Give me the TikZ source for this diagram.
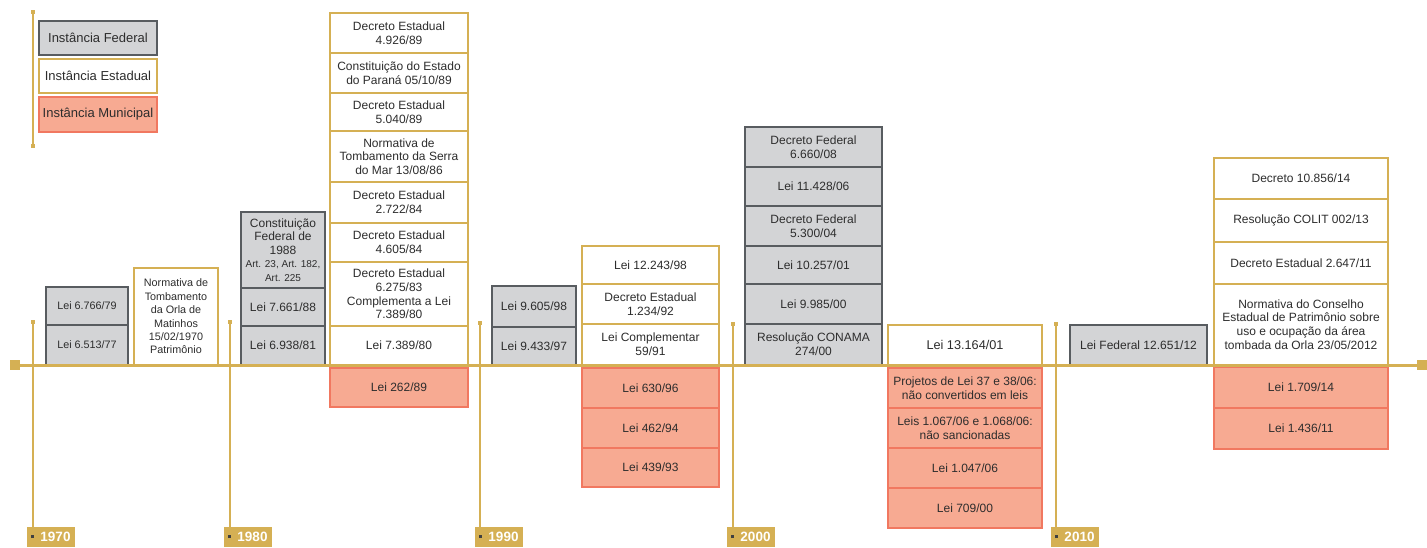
\documentclass[tikz,border=0pt]{standalone}
\usepackage{fontspec}
\setmainfont{Liberation Sans}
\usetikzlibrary{positioning}
\definecolor{gold}{RGB}{213,176,84}
\definecolor{fedfill}{RGB}{211,212,214}
\definecolor{fedline}{RGB}{88,92,96}
\definecolor{munfill}{RGB}{247,170,146}
\definecolor{munline}{RGB}{241,120,96}
\definecolor{txtgrey}{RGB}{45,45,45}

\tikzset{
  box/.style={draw, rectangle, outer sep=0pt, inner sep=1pt, align=center,
    text=txtgrey, font=\fontsize{12}{13.6}\selectfont},
  fed/.style={box, fill=fedfill, draw=fedline, line width=1.6pt},
  est/.style={box, fill=white, draw=gold, line width=1.6pt},
  mun/.style={box, fill=munfill, draw=munline, line width=1.2pt},
  narrowtxt/.style={font=\fontsize{10.8}{13.4}\selectfont},
  axis/.style={draw=gold, line width=2.2pt},
  dot/.style={rectangle, fill=gold, minimum size=4.5pt, inner sep=0pt, outer sep=0pt},
  endsq/.style={rectangle, fill=gold, minimum size=10pt, inner sep=0pt, outer sep=0pt},
  yearbox/.style={rectangle, fill=gold, text=white, minimum width=48pt, minimum height=20pt,
    inner sep=0pt, outer sep=0pt, anchor=north west, font=\fontsize{13.5}{15}\selectfont\bfseries},
}
\newcommand{\yrdot}{\textcolor{black!75}{\rule[3.5pt]{3pt}{3pt}}\hspace{6pt}}
\newcommand{\arttxt}{\fontsize{10}{11.5}\selectfont}

\begin{document}
\begin{tikzpicture}[x=1pt, y=-1pt]
    \useasboundingbox (0,0) rectangle (1427,547);

    % Legend
    \node[dot] (legtop) at (33,12) {};
    \node[dot] (legbot) at (33,146) {};
    \draw[axis] (legtop) -- (legbot);
    \node[fed, font=\fontsize{13}{15}\selectfont, minimum width=118pt, minimum height=34pt, anchor=north west] (legfed) at (39,21) {Instância Federal};
    \node[est, font=\fontsize{13}{15}\selectfont, minimum width=118pt, minimum height=34pt, below=4pt of legfed] (legest) {Instância Estadual};
    \node[mun, font=\fontsize{13}{15}\selectfont, minimum width=118pt, minimum height=35pt, below=4pt of legest] (legmun) {Instância Municipal};

    % Year markers
    \node[dot] (tick70) at (33,322) {};
    \node[yearbox] (yr70) at (27,527) {\yrdot 1970};
    \draw[axis] (tick70) -- (tick70 |- yr70.north);

    \node[dot] (tick80) at (230,322) {};
    \node[yearbox] (yr80) at (224,527) {\yrdot 1980};
    \draw[axis] (tick80) -- (tick80 |- yr80.north);

    \node[dot] (tick90) at (480,323) {};
    \node[yearbox] (yr90) at (475,527) {\yrdot 1990};
    \draw[axis] (tick90) -- (tick90 |- yr90.north);

    \node[dot] (tick00) at (733,324) {};
    \node[yearbox] (yr00) at (727,527) {\yrdot 2000};
    \draw[axis] (tick00) -- (tick00 |- yr00.north);

    \node[dot] (tick10) at (1056,324) {};
    \node[yearbox] (yr10) at (1051,527) {\yrdot 2010};
    \draw[axis] (tick10) -- (tick10 |- yr10.north);

    % 1970s
    \node[fed, narrowtxt, minimum width=82pt, minimum height=38pt, anchor=north west] (f70a) at (46,287) {Lei 6.766/79};
    \node[fed, narrowtxt, minimum width=82pt, minimum height=40pt, below=0pt of f70a] (f70b) {Lei 6.513/77};
    \node[est, narrowtxt, minimum width=84pt, minimum height=97pt, anchor=north west] (e70a) at (134,268)
        {Normativa de\\Tombamento\\da Orla de\\Matinhos\\15/02/1970\\Patrimônio};

    % 1980s
    \node[fed, minimum width=84pt, minimum height=76pt, anchor=north west] (f80a) at (241,212)
        {Constituição\\Federal de\\1988\\\arttxt Art. 23, Art. 182,\\\arttxt Art. 225};
    \node[fed, minimum width=84pt, minimum height=38pt, below=0pt of f80a] (f80b) {Lei 7.661/88};
    \node[fed, minimum width=84pt, minimum height=39pt, below=0pt of f80b] (f80c) {Lei 6.938/81};

    \node[est, minimum width=138pt, minimum height=40pt, anchor=north west] (e80a) at (330,13) {Decreto Estadual\\4.926/89};
    \node[est, minimum width=138pt, minimum height=40pt, below=0pt of e80a] (e80b) {Constituição do Estado\\do Paraná 05/10/89};
    \node[est, minimum width=138pt, minimum height=38pt, below=0pt of e80b] (e80c) {Decreto Estadual\\5.040/89};
    \node[est, minimum width=138pt, minimum height=51pt, below=0pt of e80c] (e80d) {Normativa de\\Tombamento da Serra\\do Mar 13/08/86};
    \node[est, minimum width=138pt, minimum height=41pt, below=0pt of e80d] (e80e) {Decreto Estadual\\2.722/84};
    \node[est, minimum width=138pt, minimum height=39pt, below=0pt of e80e] (e80f) {Decreto Estadual\\4.605/84};
    \node[est, minimum width=138pt, minimum height=64pt, below=0pt of e80f] (e80g) {Decreto Estadual\\6.275/83\\Complementa a Lei\\7.389/80};
    \node[est, minimum width=138pt, minimum height=39pt, below=0pt of e80g] (e80h) {Lei 7.389/80};

    \node[mun, minimum width=138pt, minimum height=39pt, anchor=north west] (m80a) at (330,368) {Lei 262/89};

    % 1990s
    \node[fed, minimum width=84pt, minimum height=41pt, anchor=north west] (f90a) at (492,286) {Lei 9.605/98};
    \node[fed, minimum width=84pt, minimum height=38pt, below=0pt of f90a] (f90b) {Lei 9.433/97};

    \node[est, minimum width=137pt, minimum height=38pt, anchor=north west] (e90a) at (582,246) {Lei 12.243/98};
    \node[est, minimum width=137pt, minimum height=40pt, below=0pt of e90a] (e90b) {Decreto Estadual\\1.234/92};
    \node[est, minimum width=137pt, minimum height=41pt, below=0pt of e90b] (e90c) {Lei Complementar\\59/91};

    \node[mun, minimum width=137pt, minimum height=40pt, anchor=north west] (m90a) at (582,368) {Lei 630/96};
    \node[mun, minimum width=137pt, minimum height=40pt, below=0pt of m90a] (m90b) {Lei 462/94};
    \node[mun, minimum width=137pt, minimum height=39pt, below=0pt of m90b] (m90c) {Lei 439/93};

    % 2000s
    \node[fed, minimum width=137pt, minimum height=40pt, anchor=north west] (f00a) at (745,127) {Decreto Federal\\6.660/08};
    \node[fed, minimum width=137pt, minimum height=39pt, below=0pt of f00a] (f00b) {Lei 11.428/06};
    \node[fed, minimum width=137pt, minimum height=40pt, below=0pt of f00b] (f00c) {Decreto Federal\\5.300/04};
    \node[fed, minimum width=137pt, minimum height=38pt, below=0pt of f00c] (f00d) {Lei 10.257/01};
    \node[fed, minimum width=137pt, minimum height=40pt, below=0pt of f00d] (f00e) {Lei 9.985/00};
    \node[fed, minimum width=137pt, minimum height=41pt, below=0pt of f00e] (f00f) {Resolução CONAMA\\274/00};

    \node[est, font=\fontsize{12.7}{14}\selectfont, minimum width=154pt, minimum height=40pt, anchor=north west] (e00a) at (888,325) {Lei 13.164/01};

    \node[mun, minimum width=154pt, minimum height=40pt, anchor=north west] (m00a) at (888,368) {Projetos de Lei 37 e 38/06:\\não convertidos em leis};
    \node[mun, minimum width=154pt, minimum height=40pt, below=0pt of m00a] (m00b) {Leis 1.067/06 e 1.068/06:\\não sancionadas};
    \node[mun, minimum width=154pt, minimum height=40pt, below=0pt of m00b] (m00c) {Lei 1.047/06};
    \node[mun, minimum width=154pt, minimum height=40pt, below=0pt of m00c] (m00d) {Lei 709/00};

    % 2010s
    \node[fed, minimum width=137pt, minimum height=40pt, anchor=north west] (f10a) at (1070,325) {Lei Federal 12.651/12};

    \node[est, minimum width=174pt, minimum height=41pt, anchor=north west] (e10a) at (1214,158) {Decreto 10.856/14};
    \node[est, minimum width=174pt, minimum height=43pt, below=0pt of e10a] (e10b) {Resolução COLIT 002/13};
    \node[est, minimum width=174pt, minimum height=42pt, below=0pt of e10b] (e10c) {Decreto Estadual 2.647/11};
    \node[est, minimum width=174pt, minimum height=81pt, below=0pt of e10c] (e10d)
        {Normativa do Conselho\\Estadual de Patrimônio sobre\\uso e ocupação da área\\tombada da Orla 23/05/2012};

    \node[mun, minimum width=174pt, minimum height=41pt, anchor=north west] (m10a) at (1214,367) {Lei 1.709/14};
    \node[mun, minimum width=174pt, minimum height=41pt, below=0pt of m10a] (m10b) {Lei 1.436/11};

    % Timeline
    \node[endsq] (tlstart) at (15,365) {};
    \node[endsq] (tlend) at (1422,365) {};
    \draw[axis, line width=3pt] (tlstart) -- (tlend);
\end{tikzpicture}
\end{document}
